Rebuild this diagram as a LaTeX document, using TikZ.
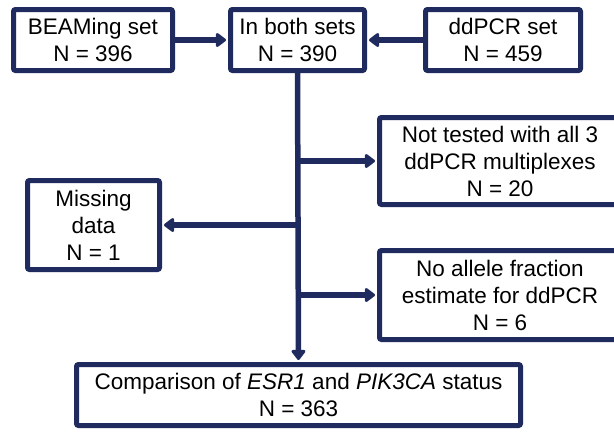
\documentclass[tikz,border=0pt]{standalone}
\usepackage{fontspec}
\setmainfont{Liberation Sans}
\usepackage{xcolor}
\usetikzlibrary{arrows.meta}
\definecolor{navy}{RGB}{31,42,94}

\begin{document}
\begin{tikzpicture}[x=1pt, y=-1pt,
        box/.style = {draw = navy,
                      line width = 5pt,
                      rounded corners = 2pt,
                      fill = white,
                      align = center,
                      inner sep = 0pt,
                      font = \fontsize{22.5}{27}\selectfont},
        link/.style = {draw = navy,
                       line width = 5.5pt,
                       shorten > = 2pt,
                       -{Triangle[length = 11pt, width = 16pt, round]}}]

    \useasboundingbox (0,0) rectangle (614,432);

    % top row
    \node (beam) [box, minimum width = 159pt, minimum height = 61pt] at (93,40) {BEAMing set\\N = 396};
    \node (both) [box, minimum width = 134pt, minimum height = 61pt] at (297.5,40) {In both sets\\N = 390};
    \node (ddpcr) [box, minimum width = 155pt, minimum height = 61pt] at (503,40) {ddPCR set\\N = 459};

    % exclusions
    \node (nottested) [box, minimum width = 241pt, minimum height = 87pt] at (500,161) {Not tested with all 3\\ddPCR multiplexes\\N = 20};
    \node (missing) [box, minimum width = 132pt, minimum height = 89pt] at (93.5,225) {Missing\\data\\N = 1};
    \node (noallele) [box, minimum width = 241pt, minimum height = 89pt] at (500,295) {No allele fraction\\estimate for ddPCR\\N = 6};

    % final set
    \node (compare) [box, minimum width = 444pt, minimum height = 61pt] at (298.5,395) {Comparison of \textit{ESR1} and \textit{PIK3CA} status\\N = 363};

    \coordinate (j1) at (both.south |- nottested.west);
    \coordinate (j2) at (both.south |- missing.east);
    \coordinate (j3) at (both.south |- noallele.west);

    \draw [link] (beam) -- (both);
    \draw [link] (ddpcr) -- (both);
    \draw [link] (both.south) -- (compare.north);
    \draw [link] (j1) -- (nottested.west);
    \draw [link] (j2) -- (missing.east);
    \draw [link] (j3) -- (noallele.west);
\end{tikzpicture}
\end{document}
